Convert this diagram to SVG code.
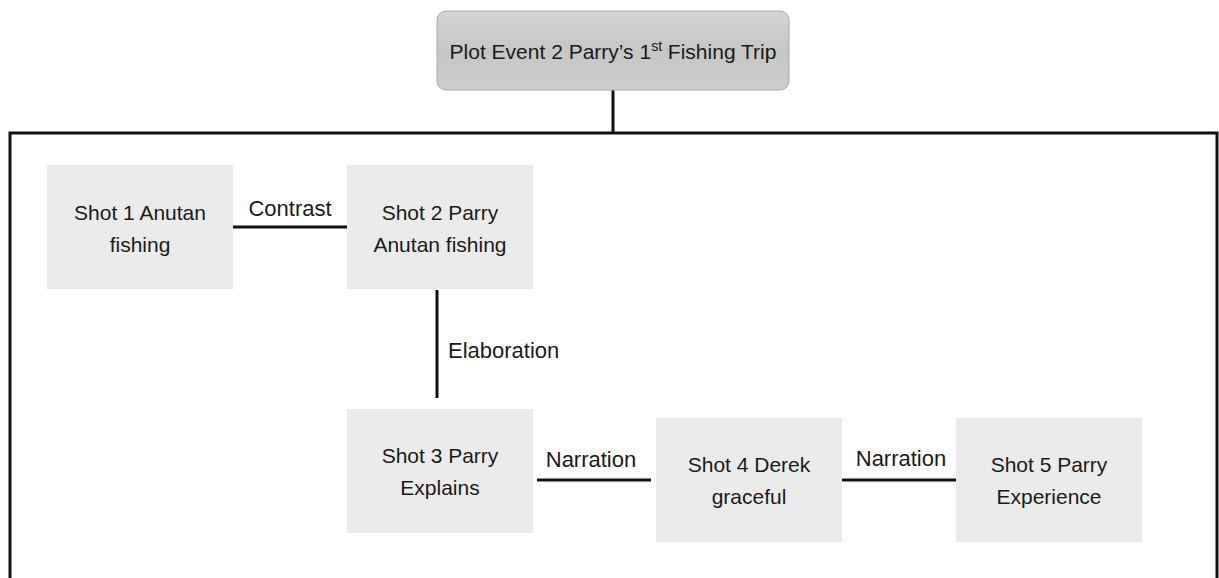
<svg xmlns="http://www.w3.org/2000/svg" width="1219" height="578" viewBox="0 0 1219 578">
<defs>
<linearGradient id="topg" x1="0" y1="0" x2="0" y2="1">
<stop offset="0" stop-color="#d4d4d4"/>
<stop offset="0.5" stop-color="#c6c6c6"/>
<stop offset="1" stop-color="#cdcdcd"/>
</linearGradient>
</defs>
<style>
.box{fill:#ebebeb;}
.t{font-family:"Liberation Sans",Arial,sans-serif;font-size:21px;fill:#1a1a1a;text-anchor:middle;}
.lbl{font-family:"Liberation Sans",Arial,sans-serif;font-size:22px;fill:#1a1a1a;}
.c{stroke:#111;stroke-width:3;fill:none;}
</style>
<rect width="1219" height="578" fill="#ffffff"/>
<g id="connectors">
<path class="c" d="M10,578 V133 H1217 V578" stroke-width="2.5"/>
<line class="c" x1="613" y1="90" x2="613" y2="133"/>
<line class="c" x1="233" y1="227" x2="347" y2="227"/>
<line class="c" x1="437" y1="290" x2="437" y2="398"/>
<line class="c" x1="537" y1="480" x2="651" y2="480"/>
<line class="c" x1="842" y1="480" x2="956" y2="480"/>
<text class="lbl" x="290" y="216" text-anchor="middle">Contrast</text>
<text class="lbl" x="448" y="358">Elaboration</text>
<text class="lbl" x="591" y="467" text-anchor="middle">Narration</text>
<text class="lbl" x="901" y="466" text-anchor="middle">Narration</text>
</g>
<g id="plot-event">
<rect x="437" y="11" width="352" height="79" rx="9" fill="url(#topg)" stroke="#a9a9a9" stroke-width="1"/>
<text class="t" x="613" y="59" font-size="20.5">Plot Event 2 Parry’s 1<tspan font-size="14" dy="-8">st</tspan><tspan dy="8"> Fishing Trip</tspan></text>
</g>
<g id="shot1">
<rect class="box" x="47" y="165" width="186" height="124"/>
<text class="t" x="140" y="220">Shot 1 Anutan</text>
<text class="t" x="140" y="252">fishing</text>
</g>
<g id="shot2">
<rect class="box" x="347" y="165" width="186" height="124"/>
<text class="t" x="440" y="220">Shot 2 Parry</text>
<text class="t" x="440" y="252">Anutan fishing</text>
</g>
<g id="shot3">
<rect class="box" x="347" y="409" width="186" height="124"/>
<text class="t" x="440" y="463">Shot 3 Parry</text>
<text class="t" x="440" y="495">Explains</text>
</g>
<g id="shot4">
<rect class="box" x="656" y="418" width="186" height="124"/>
<text class="t" x="749" y="472">Shot 4 Derek</text>
<text class="t" x="749" y="504">graceful</text>
</g>
<g id="shot5">
<rect class="box" x="956" y="418" width="186" height="124"/>
<text class="t" x="1049" y="472">Shot 5 Parry</text>
<text class="t" x="1049" y="504">Experience</text>
</g>
</svg>
